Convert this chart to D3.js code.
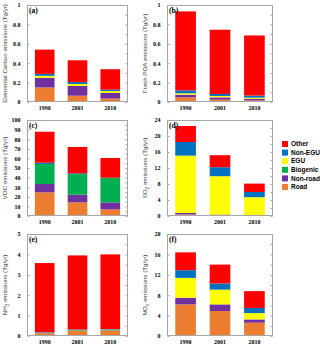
<!DOCTYPE html>
<html><head><meta charset="utf-8">
<script src="https://cdn.jsdelivr.net/npm/d3@7"></script>
<style>body{margin:0;background:#fff}svg{display:block}</style>
</head><body>
<svg id="c" width="320" height="347"></svg>
<script>
// ---- data ----
const years = ["1990", "2001", "2010"];
const seriesNames = ["Road", "Non-road", "Biogenic", "EGU", "Non-EGU", "Other"];
const seriesColors = ["#ED7D31", "#7030A0", "#00B050", "#FFFF00", "#0070C0", "#FF0000"];
// segment values per year, in order of seriesNames
const ecValues  = [[0.15, 0.10, 0, 0.02, 0.02, 0.25], [0.065, 0.10, 0, 0.02, 0.02, 0.225], [0.035, 0.058, 0, 0.02, 0.015, 0.21]];
const poaValues = [[0.048, 0.028, 0, 0.014, 0.03, 0.814], [0.024, 0.024, 0, 0.014, 0.021, 0.662], [0.017, 0.017, 0, 0.011, 0.021, 0.62]];
const vocValues = [[24.7, 8.6, 20.9, 0, 1.3, 32.3], [14.2, 8.0, 21.5, 0, 0.7, 27.5], [6.9, 7.3, 25.4, 0, 0.3, 20.5]];
const so2Values = [[0.4, 0.35, 0, 14.35, 3.4, 4.0], [0.2, 0.15, 0, 9.6, 2.25, 3.0], [0.05, 0.05, 0, 4.6, 1.3, 2.1]];
const nh3Values = [[0.13, 0.01, 0.02, 0.005, 0.02, 3.39], [0.25, 0.01, 0.03, 0.01, 0.02, 3.63], [0.27, 0.01, 0.03, 0.01, 0.02, 3.66]];
const noxValues = [[6.2, 1.3, 0, 3.9, 1.5, 3.5], [4.9, 1.3, 0, 2.9, 1.2, 3.7], [2.6, 0.65, 0, 1.25, 1.0, 3.3]];
const ecTicks  = [0, 0.2, 0.4, 0.6, 0.8, 1];
const poaTicks = [0, 0.2, 0.4, 0.6, 0.8, 1];
const vocTicks = [0, 10, 20, 30, 40, 50, 60, 70, 80, 90, 100];
const so2Ticks = [0, 4, 8, 12, 16, 20, 24];
const nh3Ticks = [0, 1, 2, 3, 4, 5];
const noxTicks = [0, 4, 8, 12, 16, 20];
const legendOrder = ["Other", "Non-EGU", "EGU", "Biogenic", "Non-road", "Road"];

// ---- layout ----
const panels = [
  {tag: "(a)", vals: ecValues,  ticks: ecTicks,  title: [["Elemental Carbon emissions (Tg/yr)"]], x0: 27, x1: 128, y0: 5, y1: 102},
  {tag: "(b)", vals: poaValues, ticks: poaTicks, title: [["Fresh POA emissions (Tg/yr)"]], x0: 167, x1: 273, y0: 5, y1: 102},
  {tag: "(c)", vals: vocValues, ticks: vocTicks, title: [["VOC emissions (Tg/yr)"]], x0: 27, x1: 128, y0: 120, y1: 216},
  {tag: "(d)", vals: so2Values, ticks: so2Ticks, title: [["SO"], ["2", true], [" emissions (Tg/yr)"]], x0: 167, x1: 273, y0: 120, y1: 216},
  {tag: "(e)", vals: nh3Values, ticks: nh3Ticks, title: [["NH"], ["3", true], [" emissions (Tg/yr)"]], x0: 27, x1: 128, y0: 234, y1: 336},
  {tag: "(f)", vals: noxValues, ticks: noxTicks, title: [["NO"], ["x", true], [" emissions (Tg/yr)"]], x0: 167, x1: 273, y0: 234, y1: 336}
];

const svg = d3.select("#c");
const serif = "'Liberation Serif','Times New Roman',serif";
const sans = "'Liberation Sans',Arial,sans-serif";

panels.forEach(p => {
  const g = svg.append("g");
  const x = d3.scaleBand().domain(years).range([p.x0, p.x1]).paddingInner(0.4).paddingOuter(0.24);
  const y = d3.scaleLinear().domain([p.ticks[0], p.ticks[p.ticks.length - 1]]).range([p.y1, p.y0]);
  const rows = p.vals.map((v, i) => {
    const o = {year: years[i]};
    seriesNames.forEach((s, j) => o[s] = v[j]);
    return o;
  });
  const stacked = d3.stack().keys(seriesNames)(rows);
  stacked.forEach((layer, j) => {
    g.selectAll(null).data(layer).enter().append("rect")
      .attr("x", d => x(d.data.year))
      .attr("width", x.bandwidth())
      .attr("y", d => y(d[1]))
      .attr("height", d => Math.max(0, y(d[0]) - y(d[1])))
      .attr("fill", seriesColors[j]);
  });
  // frame
  g.append("rect").attr("x", p.x0 + 0.5).attr("y", p.y0 + 0.5)
    .attr("width", p.x1 - p.x0 - 1).attr("height", p.y1 - p.y0 - 1)
    .attr("fill", "none").attr("stroke", "#a6a6a6").attr("stroke-width", 1);
  // left axis
  const ax = d3.axisLeft(y).tickValues(p.ticks).tickSize(2).tickPadding(5).tickFormat(d3.format("~g"));
  const axg = g.append("g").attr("transform", `translate(${p.x0 + 0.5},0)`).call(ax);
  axg.select(".domain").remove();
  axg.selectAll("line").attr("stroke", "#a6a6a6").attr("x2", 2);
  axg.selectAll("text").attr("font-family", serif).attr("font-weight", "bold").attr("font-size", 6).attr("fill", "#000");
  // right axis minor ticks
  const ar = d3.axisRight(y).ticks(p.ticks.length * 2).tickSize(-2).tickFormat("");
  const arg = g.append("g").attr("transform", `translate(${p.x1 - 0.5},0)`).call(ar);
  arg.select(".domain").remove();
  arg.selectAll("line").attr("stroke", "#a6a6a6");
  // bottom axis labels
  const bx = d3.axisBottom(x).tickSize(0).tickPadding(4);
  const bxg = g.append("g").attr("transform", `translate(0,${p.y1})`).call(bx);
  bxg.select(".domain").remove();
  bxg.selectAll("text").attr("font-family", serif).attr("font-weight", "bold").attr("font-size", 6).attr("fill", "#000");
  // panel tag
  g.append("text").attr("x", p.x0 + 2).attr("y", p.y0 + 8).text(p.tag)
    .attr("font-family", serif).attr("font-weight", "bold").attr("font-size", 7.5).attr("fill", "#000");
  // y title
  const t = g.append("text")
    .attr("transform", `translate(${p.x0 - 20},${(p.y0 + p.y1) / 2}) rotate(-90)`)
    .attr("text-anchor", "middle").attr("font-family", sans).attr("font-size", 6.2).attr("fill", "#404040");
  p.title.forEach(part => {
    const ts = t.append("tspan").text(part[0]);
    if (part[1]) ts.attr("font-size", 4.6).attr("dy", 1.5);
    else if (t.selectAll("tspan").size() > 1) ts.attr("dy", -1.5);
  });
});

// legend
const lg = svg.append("g");
const ly = d3.scalePoint().domain(legendOrder).range([144, 187]);
legendOrder.forEach(name => {
  const j = seriesNames.indexOf(name);
  lg.append("rect").attr("x", 282).attr("y", ly(name) - 3).attr("width", 6).attr("height", 6).attr("fill", seriesColors[j]);
  lg.append("text").attr("x", 291).attr("y", ly(name) + 2.2).text(name)
    .attr("font-family", sans).attr("font-weight", "bold").attr("font-size", 6.5).attr("fill", "#000");
});
</script>
</body></html>
